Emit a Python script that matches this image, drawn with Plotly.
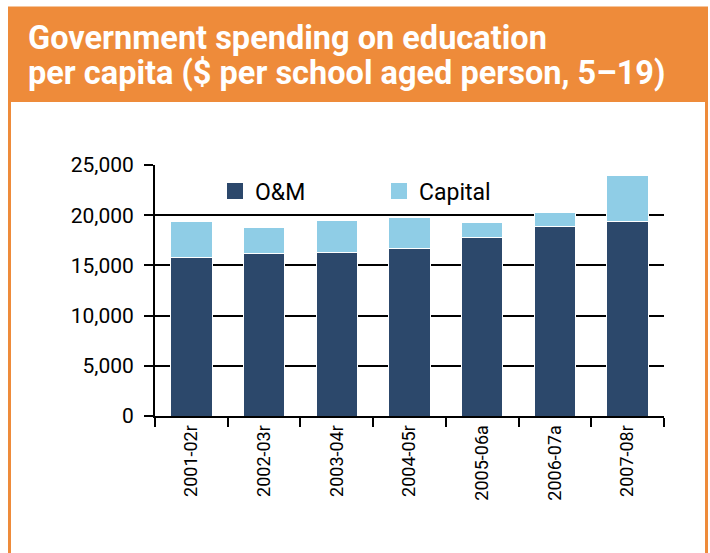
import plotly.graph_objects as go

categories = ["2001-02r", "2002-03r", "2003-04r", "2004-05r", "2005-06a", "2006-07a", "2007-08r"]
om_values = [15800, 16200, 16300, 16700, 17800, 18900, 19400]
capital_values = [3600, 2600, 3200, 3100, 1500, 1400, 4600]
y_ticks = [0, 5000, 10000, 15000, 20000, 25000]

W, H = 710, 553
L, R, T, B = 155, 664, 165, 416  # plot area in pixels
pw, ph = R - L, B - T

def px(x):
    return (x - L) / pw

def py(y):
    return (B - y) / ph

ORANGE = "#EE8B3A"
DARK = "#2C486B"
LIGHT = "#8FCDE6"
font = "Roboto, Liberation Sans, sans-serif"

fig = go.Figure()
fig.add_trace(go.Bar(x=categories, y=om_values, name="O&M", showlegend=False, legendgroup="om",
                     marker=dict(color=DARK, line=dict(color="white", width=1))))
fig.add_trace(go.Bar(x=categories, y=capital_values, name="Capital", showlegend=False, legendgroup="cap",
                     marker=dict(color=LIGHT, line=dict(color="white", width=1))))
# legend entries (square swatches)
fig.add_trace(go.Scatter(x=[None], y=[None], mode="markers", name="O&M", legendgroup="om",
                         marker=dict(symbol="square", size=16, color=DARK)))
fig.add_trace(go.Scatter(x=[None], y=[None], mode="markers", name="Capital", legendgroup="cap",
                         marker=dict(symbol="square", size=16, color=LIGHT)))

fig.update_layout(
    width=W, height=H,
    barmode="stack", bargap=0.43,
    margin=dict(l=L, r=W - R, t=T, b=H - B),
    paper_bgcolor="white", plot_bgcolor="white",
    font=dict(family=font, color="black"),
    showlegend=True,
    legend=dict(orientation="h", x=px(215), y=py(191), xanchor="left", yanchor="middle",
                font=dict(size=23, family=font, color="black"), bgcolor="rgba(0,0,0,0)",
                traceorder="normal", entrywidth=119, entrywidthmode="pixels", itemsizing="trace"),
    xaxis=dict(type="category", tickangle=-90, tickson="boundaries", ticks="outside", ticklen=9,
               tickwidth=2, tickcolor="black", showline=True, linecolor="black", linewidth=2,
               showgrid=False, tickfont=dict(size=18, family=font, color="black"), fixedrange=True),
    yaxis=dict(range=[0, 25000], tickvals=y_ticks, tickformat=",", ticks="outside", ticklen=9,
               tickwidth=2, tickcolor="black", showline=True, linecolor="black", linewidth=2,
               showgrid=True, gridcolor="black", gridwidth=2, zeroline=False, ticklabelstandoff=6,
               tickfont=dict(size=21, family=font, color="black"), fixedrange=True),
    shapes=[
        dict(type="rect", xref="paper", yref="paper", x0=px(8), x1=px(708), y0=py(102), y1=py(7),
             fillcolor=ORANGE, line=dict(width=0), layer="below"),
        dict(type="rect", xref="paper", yref="paper", x0=px(9.5), x1=px(706.5), y0=py(570), y1=py(8),
             fillcolor="rgba(0,0,0,0)", line=dict(color=ORANGE, width=3), layer="below"),
    ],
    annotations=[
        dict(text="<b>Government spending on education</b>",
             xref="paper", yref="paper", x=px(26), y=py(38), xanchor="left", yanchor="middle",
             align="left", showarrow=False, font=dict(size=32.5, family=font, color="white")),
        dict(text="<b>per capita ($ per school aged person, 5–19)</b>",
             xref="paper", yref="paper", x=px(26), y=py(73), xanchor="left", yanchor="middle",
             align="left", showarrow=False, font=dict(size=32.5, family=font, color="white")),
    ],
)

fig.write_html("out.html", config={"displayModeBar": False},
               post_script="document.body.style.margin='0';document.documentElement.style.overflow='hidden';")
